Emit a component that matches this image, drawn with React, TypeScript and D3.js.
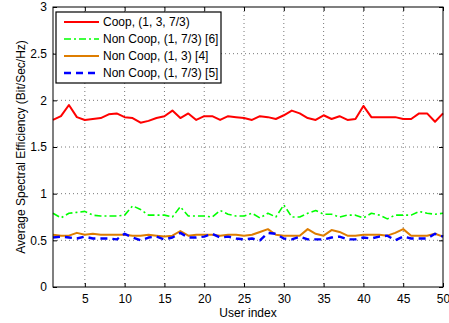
import React, { useEffect, useRef } from "react";
import * as d3 from "d3";

// values
const users = d3.range(1, 51);

const coop = [
  1.79, 1.83, 1.95, 1.82, 1.79, 1.80, 1.81, 1.85, 1.86, 1.82,
  1.81, 1.76, 1.78, 1.81, 1.83, 1.89, 1.81, 1.86, 1.79, 1.83,
  1.83, 1.79, 1.83, 1.82, 1.81, 1.79, 1.83, 1.82, 1.80, 1.84,
  1.89, 1.86, 1.81, 1.79, 1.84, 1.80, 1.83, 1.79, 1.80, 1.94,
  1.82, 1.82, 1.82, 1.82, 1.80, 1.80, 1.86, 1.86, 1.77, 1.86,
];

const nonCoop6 = [
  0.79, 0.74, 0.79, 0.80, 0.81, 0.77, 0.76, 0.76, 0.76, 0.77,
  0.87, 0.83, 0.77, 0.77, 0.77, 0.75, 0.86, 0.76, 0.76, 0.76,
  0.75, 0.82, 0.78, 0.76, 0.76, 0.79, 0.74, 0.79, 0.75, 0.88,
  0.75, 0.75, 0.79, 0.82, 0.78, 0.78, 0.75, 0.77, 0.77, 0.74,
  0.79, 0.77, 0.73, 0.77, 0.77, 0.77, 0.81, 0.79, 0.78, 0.79,
];

const nonCoop4 = [
  0.56, 0.55, 0.55, 0.58, 0.56, 0.57, 0.56, 0.56, 0.56, 0.56,
  0.55, 0.55, 0.56, 0.55, 0.54, 0.55, 0.60, 0.55, 0.56, 0.56,
  0.56, 0.55, 0.56, 0.56, 0.55, 0.56, 0.59, 0.62, 0.56, 0.55,
  0.55, 0.55, 0.62, 0.57, 0.55, 0.61, 0.59, 0.55, 0.55, 0.56,
  0.56, 0.56, 0.55, 0.58, 0.62, 0.55, 0.55, 0.55, 0.57, 0.54,
];

const nonCoop5 = [
  0.53, 0.54, 0.53, 0.52, 0.54, 0.52, 0.52, 0.52, 0.51, 0.57,
  0.53, 0.50, 0.53, 0.54, 0.51, 0.53, 0.58, 0.53, 0.53, 0.54,
  0.57, 0.53, 0.54, 0.52, 0.51, 0.52, 0.50, 0.58, 0.57, 0.52,
  0.51, 0.54, 0.51, 0.51, 0.51, 0.53, 0.54, 0.51, 0.51, 0.53,
  0.52, 0.54, 0.55, 0.50, 0.54, 0.52, 0.52, 0.52, 0.57, 0.54,
];

const xTicks = [5, 10, 15, 20, 25, 30, 35, 40, 45, 50];
const yTicks = [0, 0.5, 1, 1.5, 2, 2.5, 3];

type Series = {
  label: string;
  values: number[];
  color: string;
  width: number;
  dash: string | null;
};

const series: Series[] = [
  { label: "Coop, (1, 3, 7/3)", values: coop, color: "#ff0000", width: 2, dash: null },
  { label: "Non Coop, (1, 7/3) [6]", values: nonCoop6, color: "#00ff00", width: 1.6, dash: "7,3,2,3" },
  { label: "Non Coop, (1, 3) [4]", values: nonCoop4, color: "#de7d00", width: 2, dash: null },
  { label: "Non Coop, (1, 7/3) [5]", values: nonCoop5, color: "#0000ff", width: 2.4, dash: "7,5" },
];

const W = 449;
const H = 323;
const FONT = "Liberation Sans, Arial, sans-serif";

export default function App() {
  const svgRef = useRef<SVGSVGElement | null>(null);

  useEffect(() => {
    const margin = { top: 7, right: 6, bottom: 36, left: 53 };
    const innerWidth = W - margin.left - margin.right;
    const innerHeight = H - margin.top - margin.bottom;

    const svg = d3.select(svgRef.current);
    svg.selectAll("*").remove();

    const g = svg.append("g").attr("transform", `translate(${margin.left},${margin.top})`);

    const x = d3.scaleLinear().domain([1, 50]).range([0, innerWidth]);
    const y = d3.scaleLinear().domain([0, 3]).range([innerHeight, 0]);

    g.append("rect")
      .attr("width", innerWidth)
      .attr("height", innerHeight)
      .attr("fill", "#fff");

    // dotted grid
    g.append("g")
      .selectAll("line")
      .data(xTicks.filter((t) => t < 50))
      .join("line")
      .attr("x1", (d) => x(d))
      .attr("x2", (d) => x(d))
      .attr("y1", 0)
      .attr("y2", innerHeight)
      .attr("stroke", "#555")
      .attr("stroke-width", 0.8)
      .attr("stroke-dasharray", "1,3");

    g.append("g")
      .selectAll("line")
      .data(yTicks.filter((t) => t > 0 && t < 3))
      .join("line")
      .attr("x1", 0)
      .attr("x2", innerWidth)
      .attr("y1", (d) => y(d))
      .attr("y2", (d) => y(d))
      .attr("stroke", "#555")
      .attr("stroke-width", 0.8)
      .attr("stroke-dasharray", "1,3");

    // axes
    const xAxis = g.append("g")
      .attr("transform", `translate(0,${innerHeight})`)
      .call(d3.axisBottom(x).tickValues(xTicks).tickSizeInner(-4).tickSizeOuter(0).tickPadding(7));
    const yAxis = g.append("g")
      .call(d3.axisLeft(y).tickValues(yTicks).tickFormat((d) => String(d)).tickSizeInner(-4).tickSizeOuter(0).tickPadding(6));

    [xAxis, yAxis].forEach((a) => {
      a.select(".domain").remove();
      a.selectAll("text")
        .attr("font-family", FONT)
        .attr("font-size", 12)
        .attr("fill", "#000");
    });

    // right/top ticks
    g.append("g")
      .call(d3.axisTop(x).tickValues(xTicks).tickSizeInner(-4).tickSizeOuter(0).tickFormat(() => ""))
      .select(".domain").remove();
    g.append("g")
      .attr("transform", `translate(${innerWidth},0)`)
      .call(d3.axisRight(y).tickValues(yTicks).tickSizeInner(-4).tickSizeOuter(0).tickFormat(() => ""))
      .select(".domain").remove();

    // lines
    const line = d3.line<number>()
      .x((_, i) => x(users[i]))
      .y((d) => y(d));

    series.forEach((s) => {
      g.append("path")
        .datum(s.values)
        .attr("fill", "none")
        .attr("stroke", s.color)
        .attr("stroke-width", s.width)
        .attr("stroke-linejoin", "round")
        .attr("stroke-dasharray", s.dash ?? null)
        .attr("d", line);
    });

    // frame
    g.append("rect")
      .attr("width", innerWidth)
      .attr("height", innerHeight)
      .attr("fill", "none")
      .attr("stroke", "#000")
      .attr("stroke-width", 1);

    // legend
    const lg = g.append("g").attr("transform", "translate(3,5)");
    lg.append("rect")
      .attr("width", 165)
      .attr("height", 71)
      .attr("fill", "#fff")
      .attr("stroke", "#000")
      .attr("stroke-width", 1.2);
    series.forEach((s, i) => {
      const row = lg.append("g").attr("transform", `translate(0,${10 + i * 17})`);
      row.append("line")
        .attr("x1", 8)
        .attr("x2", 43)
        .attr("stroke", s.color)
        .attr("stroke-width", s.width)
        .attr("stroke-dasharray", s.dash ?? null);
      row.append("text")
        .attr("x", 47)
        .attr("dy", "0.35em")
        .attr("font-family", FONT)
        .attr("font-size", 12)
        .text(s.label);
    });

    // axis titles
    svg.append("text")
      .attr("x", margin.left + innerWidth / 2)
      .attr("y", H - 6)
      .attr("text-anchor", "middle")
      .attr("font-family", FONT)
      .attr("font-size", 12)
      .text("User index");

    svg.append("text")
      .attr("transform", `translate(25,${margin.top + innerHeight / 2}) rotate(-90)`)
      .attr("text-anchor", "middle")
      .attr("font-family", FONT)
      .attr("font-size", 12)
      .text("Average Spectral Efficiency (Bit/Sec/Hz)");
  }, []);

  return (
    <svg
      ref={svgRef}
      width={W}
      height={H}
      style={{ position: "absolute", left: 0, top: 0, background: "#fff" }}
    />
  );
}
